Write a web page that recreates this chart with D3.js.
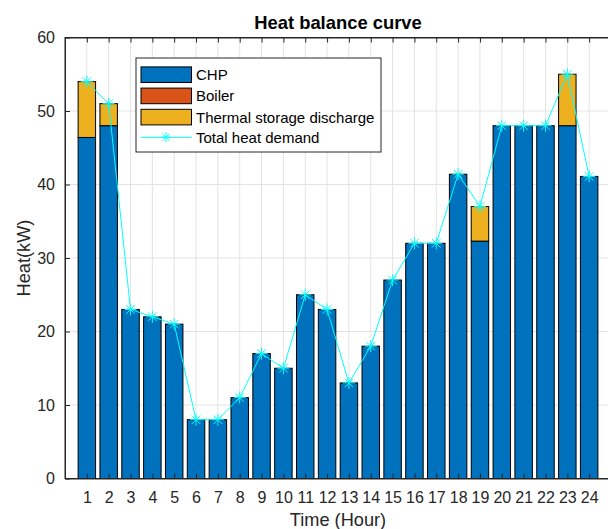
<!DOCTYPE html>
<html>
<head>
<meta charset="utf-8">
<script src="https://cdn.jsdelivr.net/npm/d3@7"></script>
<style>
  body { margin: 0; background: #fff; overflow: hidden; }
  text { font-family: "Liberation Sans", Arial, sans-serif; }
</style>
</head>
<body>
<svg id="chart" width="608" height="529"></svg>
<script>
var hours = d3.range(1, 25)
var chp = [46.4, 48, 23, 22, 21, 8, 8, 11, 17, 15, 25, 23, 13, 18, 27, 32, 32, 41.4, 32.3, 48, 48, 48, 48, 41.1]
var boiler = [0, 0, 0, 0, 0, 0, 0, 0, 0, 0, 0, 0, 0, 0, 0, 0, 0, 0, 0, 0, 0, 0, 0, 0]
var storage = [7.6, 3, 0, 0, 0, 0, 0, 0, 0, 0, 0, 0, 0, 0, 0, 0, 0, 0, 4.7, 0, 0, 0, 7, 0]
var demand = [54, 51, 23, 22, 21, 8, 8, 11, 17, 15, 25, 23, 13, 18, 27, 32, 32, 41.4, 37, 48, 48, 48, 55, 41.1]
var yTicks = [0, 10, 20, 30, 40, 50, 60]
var seriesNames = ['CHP', 'Boiler', 'Thermal storage discharge']
var colors = ['#0072BD', '#D95319', '#EDB120']
var lineColor = '#00FFFF'

// plot box runs a little past the right edge of the window (cropped like the reference)
var plotL = 65, plotR = 611, plotT = 37.5, plotB = 478.5

var svg = d3.select('#chart')
var x = d3.scaleLinear().domain([0, 25]).range([plotL, plotR])
var y = d3.scaleLinear().domain([0, 60]).range([plotB, plotT])
var step = x(1) - x(0)
var barW = step * 0.8

// grid
var grid = svg.append('g').attr('stroke', '#e3e3e3').attr('stroke-width', 1)
hours.forEach(function (h) {
  grid.append('line').attr('x1', x(h)).attr('x2', x(h)).attr('y1', plotT).attr('y2', plotB)
})
yTicks.forEach(function (t) {
  grid.append('line').attr('x1', plotL).attr('x2', plotR).attr('y1', y(t)).attr('y2', y(t))
})

// stacked bars
var rows = hours.map(function (h, i) {
  return { hour: h, CHP: chp[i], Boiler: boiler[i], 'Thermal storage discharge': storage[i] }
})
var stack = d3.stack().keys(seriesNames)(rows)
stack.forEach(function (layer, k) {
  svg.append('g').selectAll('rect')
    .data(layer.filter(function (d) { return d[1] - d[0] > 0 }))
    .join('rect')
    .attr('x', function (d) { return x(d.data.hour) - barW / 2 })
    .attr('width', barW)
    .attr('y', function (d) { return y(d[1]) })
    .attr('height', function (d) { return y(d[0]) - y(d[1]) })
    .attr('fill', colors[k])
    .attr('stroke', '#000')
    .attr('stroke-width', 1)
})

// demand line
var line = d3.line().x(function (d, i) { return x(hours[i]) }).y(function (d) { return y(d) })
svg.append('path').datum(demand).attr('d', line)
  .attr('fill', 'none').attr('stroke', lineColor).attr('stroke-width', 1)

function star (g, cx, cy, r) {
  var p = ''
  ;[0, 45, 90, 135].forEach(function (a) {
    var rad = a * Math.PI / 180
    var dx = Math.cos(rad) * r, dy = Math.sin(rad) * r
    p += 'M' + (cx - dx) + ',' + (cy - dy) + 'L' + (cx + dx) + ',' + (cy + dy)
  })
  g.append('path').attr('d', p).attr('stroke', lineColor).attr('stroke-width', 1).attr('fill', 'none')
}
var marks = svg.append('g')
demand.forEach(function (d, i) { star(marks, x(hours[i]), y(d), 6) })

// axes box
svg.append('rect').attr('x', plotL).attr('y', plotT).attr('width', plotR - plotL).attr('height', plotB - plotT)
  .attr('fill', 'none').attr('stroke', '#262626').attr('stroke-width', 1)

var xAxis = d3.axisBottom(x).tickValues(hours).tickSize(-5).tickPadding(13).tickSizeOuter(0)
var gx = svg.append('g').attr('transform', 'translate(0,' + plotB + ')').call(xAxis)
var xTop = d3.axisTop(x).tickValues(hours).tickSize(-5).tickFormat('').tickSizeOuter(0)
var gxt = svg.append('g').attr('transform', 'translate(0,' + plotT + ')').call(xTop)
var yAxis = d3.axisLeft(y).tickValues(yTicks).tickSize(-5).tickPadding(10).tickSizeOuter(0)
var gy = svg.append('g').attr('transform', 'translate(' + plotL + ',0)').call(yAxis)
;[gx, gxt, gy].forEach(function (g) {
  g.select('.domain').attr('stroke', '#262626')
  g.selectAll('.tick line').attr('stroke', '#262626')
  g.selectAll('.tick text').attr('fill', '#262626').style('font-size', '16px')
    .style('font-family', '"Liberation Sans", Arial, sans-serif')
})

// titles
var midX = (plotL + plotR) / 2
svg.append('text').attr('x', midX).attr('y', 29).attr('text-anchor', 'middle')
  .style('font-size', '18.4px').style('font-weight', 'bold').attr('fill', '#000').text('Heat balance curve')
svg.append('text').attr('x', midX).attr('y', 526).attr('text-anchor', 'middle')
  .style('font-size', '18.2px').attr('fill', '#262626').text('Time (Hour)')
svg.append('text').attr('transform', 'translate(30,' + ((plotT + plotB) / 2) + ') rotate(-90)')
  .attr('text-anchor', 'middle').style('font-size', '18.2px').attr('fill', '#262626').text('Heat(kW)')

// legend
var lg = svg.append('g').attr('transform', 'translate(136,58)')
lg.append('rect').attr('width', 245).attr('height', 94).attr('fill', '#fff').attr('stroke', '#262626').attr('stroke-width', 1)
seriesNames.forEach(function (name, k) {
  var cy = 16.7 + k * 21.2
  lg.append('rect').attr('x', 5).attr('y', cy - 7.8).attr('width', 50.5).attr('height', 15.6)
    .attr('fill', colors[k]).attr('stroke', '#000').attr('stroke-width', 1)
  lg.append('text').attr('x', 60).attr('y', cy + 5.5).style('font-size', '15px').attr('fill', '#000').text(name)
})
var ly = 16.7 + 3 * 21.2 - 1
lg.append('line').attr('x1', 5).attr('x2', 55.5).attr('y1', ly).attr('y2', ly).attr('stroke', lineColor)
star(lg, 30, ly, 5)
lg.append('text').attr('x', 60).attr('y', ly + 5.5).style('font-size', '15px').attr('fill', '#000').text('Total heat demand')
</script>
</body>
</html>
